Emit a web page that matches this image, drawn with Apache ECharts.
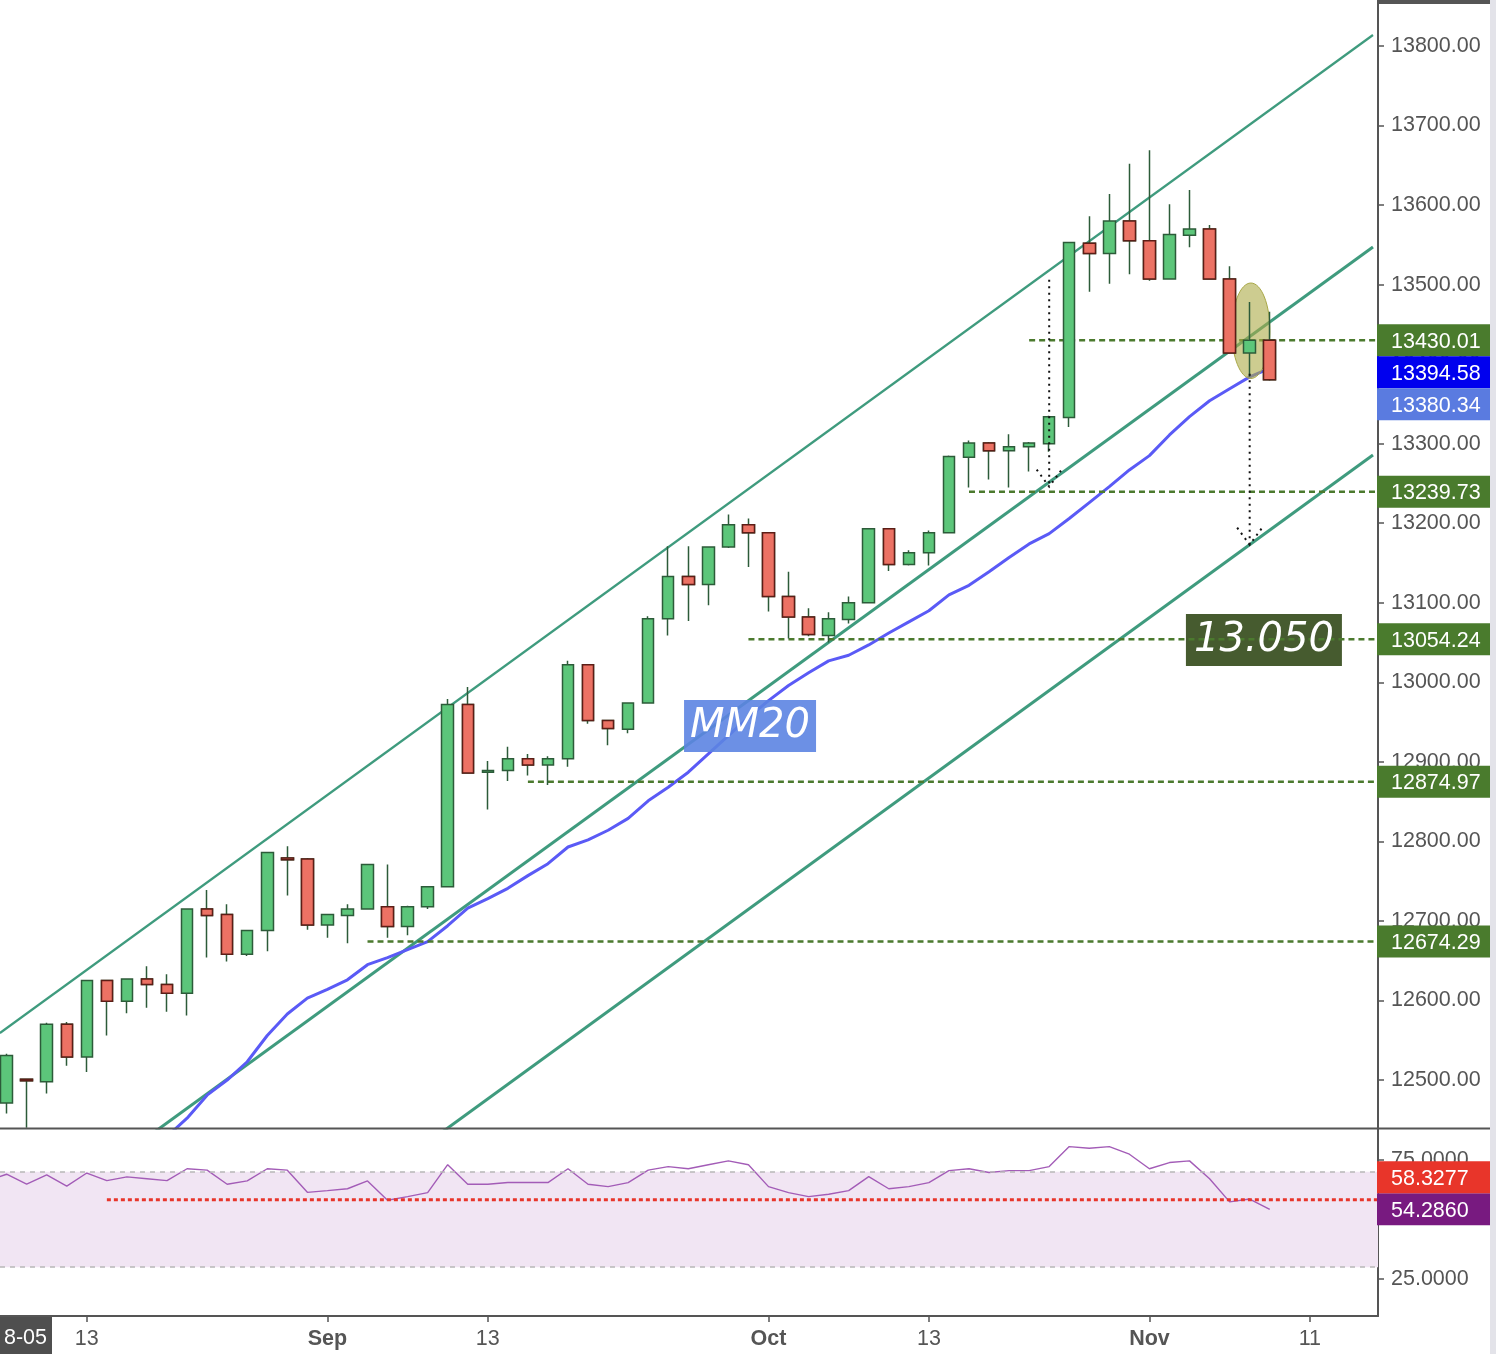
<!DOCTYPE html>
<html><head><meta charset="utf-8">
<script src="https://cdn.jsdelivr.net/npm/echarts@6/dist/echarts.min.js"></script>
<style>html,body{margin:0;padding:0;background:#fff}#c{width:1496px;height:1354px}</style>
</head><body><div id="c"></div>
<script>
// ---------------- DATA ----------------
const opens  = [12471,12501,12498,12570,12529,12625,12599,12627,12620,12609,12715,12708,12658,12688,12779,12778,12695,12707,12715,12718,12693,12718,12743,12972,12887,12889,12904,12896,12904,13022,12952,12941,12974,13080,13133,13123,13170,13198,13188,13108,13082,13059,13079,13100,13193,13148,13163,13188,13283,13301,13291,13296,13300,13333,13552,13539,13580,13555,13507,13562,13570,13507,13414,13430];
const closes = [12531,12499,12570,12529,12625,12599,12627,12620,12609,12715,12707,12658,12688,12786,12777,12695,12708,12715,12771,12693,12718,12743,12972,12886,12889,12904,12896,12904,13022,12952,12942,12974,13080,13133,13123,13170,13198,13188,13108,13082,13060,13080,13100,13193,13148,13163,13188,13284,13301,13291,13296,13301,13334,13553,13539,13580,13555,13507,13563,13570,13507,13414,13430.01,13380.34];
const lows   = [12458,12440,12483,12518,12510,12556,12584,12591,12586,12581,12654,12649,12656,12662,12732,12689,12679,12672,12714,12679,12682,12715,12742,12885,12840,12876,12883,12871,12894,12948,12921,12936,12973,13059,13077,13097,13169,13145,13089,13055,13058,13050,13074,13099,13140,13147,13147,13187,13245,13255,13245,13265,13290,13321,13491,13501,13513,13505,13506,13547,13506,13413,13384,13379];
const highs  = [12533,12502,12572,12573,12626,12626,12628,12643,12633,12716,12739,12721,12689,12787,12794,12779,12709,12721,12772,12771,12719,12744,12979,12994,12901,12919,12910,12907,13027,13023,12953,12975,13083,13171,13171,13171,13211,13206,13189,13139,13093,13088,13108,13194,13194,13166,13191,13285,13304,13302,13312,13302,13335,13554,13586,13614,13652,13669,13601,13619,13575,13523,13478,13466];

// MM20, first value belongs to candle index maStart
const maStart = 7;
const ma20 = [12406,12429,12452,12481,12500,12523,12556,12583,12603,12614,12626,12645,12654,12664,12674,12694,12716,12728,12741,12757,12772,12793,12802,12814,12829,12851,12868,12887,12910,12933,12956,12977,12996,13012,13027,13034,13047,13062,13076,13090,13110,13122,13139,13157,13174,13187,13206,13226,13246,13267,13285,13311,13334,13354,13369,13384,13394.58];

// RSI, first value belongs to index rsiStart
const rsiStart = -1;
const rsi = [66.0,69.0,64.8,68.7,64.0,69.5,66.3,67.9,67.1,66.3,71.3,70.7,64.8,66.2,71.3,70.7,61.4,62.1,62.9,66.2,58.1,59.6,61.3,73.0,64.8,64.8,65.5,65.5,65.5,71.3,64.8,63.8,65.5,70.7,72.2,71.3,73.0,74.6,73.0,63.8,61.3,59.6,60.6,62.1,68.0,62.9,63.8,65.5,70.5,71.3,69.7,70.5,70.5,72.2,80.6,79.9,80.6,77.4,71.3,73.9,74.6,67.1,57.4,58.6,54.286];

// trend channel (index, price) end points
const channelUpper  = [[-0.334, 12559.1], [68.15, 13813.8]];
const channelMiddle = [[6.0, 12409.5], [68.15, 13547.3]];
const channelLower  = [[20.0, 12403.0], [68.15, 13285.8]];

// horizontal levels and the candle index where each starts
const levelValues = [13430.01, 13239.73, 13054.24, 12874.97, 12674.29];
const levelStart  = [51, 48, 37, 26, 18];

// price axis tags and RSI tags
const priceTagValues = [13430.01, 13394.58, 13380.34, 13239.73, 13054.24, 12874.97, 12674.29];
const rsiTagValues   = [54.2860, 58.3277];
const rsiLevel = 58.3277, rsiLevelStart = 5;
const rsiBand = [30, 70];

// axis ticks
const yTickValues   = [12500,12600,12700,12800,12900,13000,13100,13200,13300,13400,13500,13600,13700,13800];
const rsiTickValues = [25, 50, 75];
const xTickIdx      = [4, 16, 24, 38, 46, 57, 65];
const xTickLabels   = ['13', 'Sep', '13', 'Oct', '13', 'Nov', '11'];
const xTickBold     = [false, true, false, true, false, true, false];
const cornerDate    = '8-05';

// annotations (data coordinates)
const noteMM20  = {text: 'MM20',   idx: 37.08, price: 12945};
const noteLevel = {text: '13.050', idx: 62.71, price: 13053.2};
const ellipseNote = {idx: 62.06, price: 13442, halfIdx: 0.95, halfPrice: 60};
const arrows = [{idx: 52, from: 13506, to: 13246}, {idx: 62, from: 13388, to: 13173}];

// ---------------- STYLE / LAYOUT ----------------
const X_MIN = -0.33, X_MAX = 68.4;
const P_MIN = 12439.7, P_MAX = 13857.8;
const R_MIN = 9.5, R_MAX = 88.4;
const AX = 1378;            // right axis x
const SEP = 1128, BOT = 1316;
const FONT = 'Liberation Sans, Arial, sans-serif';
const FS = 21.5;
const GREEN_TAG = '#4a7b2d';
const priceTagColors = [GREEN_TAG, '#0000ee', '#5a7be0', GREEN_TAG, GREEN_TAG, GREEN_TAG, GREEN_TAG];
const rsiTagColors = ['#781a80', '#e8352a'];

const chart = echarts.init(document.getElementById('c'), null, {renderer: 'canvas'});

const candleData = opens.map((o, i) => [i, o, closes[i], lows[i], highs[i]]);
const redBodies = opens.map((o, i) => closes[i] < o ? [i, o, closes[i], closes[i], o] : null).filter(d => d);

const series = [];
function lineSeries(data, color, width, z, extra) {
  return Object.assign({type: 'line', xAxisIndex: 0, yAxisIndex: 0, data, symbol: 'none', silent: true,
    lineStyle: {color, width}, z, clip: true}, extra || {});
}
series.push(lineSeries(channelUpper, '#3f9b7e', 2.2, 2));
series.push(lineSeries(channelMiddle, '#3f9b7e', 3, 2));
series.push(lineSeries(channelLower, '#3f9b7e', 3, 2));
series.push(lineSeries(ma20.map((v, i) => [i + maStart, v]), '#5a5af6', 3, 2));
levelValues.forEach((v, k) => {
  series.push(lineSeries([[levelStart[k], v], [X_MAX, v]], '#4b7a2e', 2.5, 3, {lineStyle: {color: '#4b7a2e', width: 2.5, type: [6, 4]}}));
});
series.push({
  type: 'candlestick', xAxisIndex: 0, yAxisIndex: 0, data: candleData, barWidth: 12, z: 5, silent: true,
  itemStyle: {color: '#5cc67a', color0: '#ec7264', borderColor: '#2c5b39', borderColor0: '#2c5b39', borderWidth: 1.5}
});
series.push({
  type: 'candlestick', xAxisIndex: 0, yAxisIndex: 0, data: redBodies, barWidth: 12, z: 6, silent: true,
  itemStyle: {color: '#5cc67a', color0: '#ec7264', borderColor: '#2c5b39', borderColor0: '#5c1d16', borderWidth: 1.5}
});
// RSI
series.push({
  type: 'line', xAxisIndex: 1, yAxisIndex: 1, symbol: 'none', silent: true, z: 3,
  data: rsi.map((v, i) => [i + rsiStart, v]),
  lineStyle: {color: '#a35cb7', width: 1.4},
  markArea: {silent: true, itemStyle: {color: '#f1e5f3'}, data: [[{yAxis: rsiBand[0]}, {yAxis: rsiBand[1]}]]},
  markLine: {silent: true, symbol: 'none', label: {show: false},
    lineStyle: {color: '#b8b8b8', width: 1.5, type: [5, 5]},
    data: [{yAxis: rsiBand[0]}, {yAxis: rsiBand[1]}]}
});
series.push({
  type: 'line', xAxisIndex: 1, yAxisIndex: 1, symbol: 'none', silent: true, z: 4,
  data: [[rsiLevelStart, rsiLevel], [X_MAX, rsiLevel]],
  lineStyle: {color: '#e8352a', width: 3, type: [4, 3]}
});

const axisCommon = {
  axisLine: {show: true, onZero: false, lineStyle: {color: '#555', width: 2}},
  splitLine: {show: false}
};

const option = {
  animation: false,
  backgroundColor: '#ffffff',
  grid: [
    {left: 0, top: 0, width: AX, height: SEP},
    {left: 0, top: SEP, width: AX, height: BOT - SEP}
  ],
  xAxis: [
    {type: 'value', gridIndex: 0, min: X_MIN, max: X_MAX, show: false},
    Object.assign({type: 'value', gridIndex: 1, min: X_MIN, max: X_MAX,
      axisTick: {show: true, customValues: xTickIdx, length: 6, lineStyle: {color: '#555', width: 1.5}},
      axisLabel: {show: true, customValues: xTickIdx, color: '#555', fontSize: FS, fontFamily: FONT, margin: 12,
        formatter: v => {
          const k = xTickIdx.indexOf(Math.round(v));
          if (k < 0) return '';
          return xTickBold[k] ? '{b|' + xTickLabels[k] + '}' : xTickLabels[k];
        },
        rich: {b: {fontWeight: 'bold', fontSize: FS, color: '#555', fontFamily: FONT}}}
    }, axisCommon)
  ],
  yAxis: [
    Object.assign({type: 'value', gridIndex: 0, position: 'right', min: P_MIN, max: P_MAX,
      axisTick: {show: true, customValues: yTickValues, length: 6, lineStyle: {color: '#555', width: 1.5}},
      axisLabel: {show: true, customValues: yTickValues, color: '#555', fontSize: FS, fontFamily: FONT, margin: 13,
        padding: [3, 0, 0, 0], formatter: v => Number(v).toFixed(2)}
    }, axisCommon),
    Object.assign({type: 'value', gridIndex: 1, position: 'right', min: R_MIN, max: R_MAX,
      axisTick: {show: true, customValues: rsiTickValues, length: 6, lineStyle: {color: '#555', width: 1.5}},
      axisLabel: {show: true, customValues: rsiTickValues, color: '#555', fontSize: FS, fontFamily: FONT, margin: 13,
        padding: [3, 0, 0, 0], formatter: v => Number(v).toFixed(4)}
    }, axisCommon)
  ],
  series
};
chart.setOption(option);

// ---------------- GRAPHICS (positioned through the axes) ----------------
const px = (gi, x, y) => chart.convertToPixel({gridIndex: gi}, [x, y]);
const g = [];
const TAG_H = 32, TAG_X = AX - 1, TAG_W = 1490 - (AX - 1);

// frame pieces
g.push({type: 'rect', shape: {x: 1490, y: 0, width: 6, height: 1354}, style: {fill: '#e3e3e9'}, z: 20});
g.push({type: 'rect', shape: {x: AX - 1, y: 0, width: 1490 - AX + 1, height: 4}, style: {fill: '#555'}, z: 20});
g.push({type: 'line', shape: {x1: 0, y1: SEP + 0.5, x2: 1490, y2: SEP + 0.5}, style: {stroke: '#555', lineWidth: 2}, z: 20});
g.push({type: 'rect', shape: {x: 0, y: BOT + 1, width: 52, height: 1354 - BOT - 1}, style: {fill: '#4f4f4f'}, z: 20});
g.push({type: 'text', style: {text: cornerDate, x: 47, y: 1338, fill: '#fff', font: FS + 'px ' + FONT, textAlign: 'right', textVerticalAlign: 'middle'}, z: 21});

// tags
function placeTags(values, colors, gi, digits) {
  const placed = [];
  values.forEach((v, k) => {
    let y = px(gi, 0, v)[1];
    for (let pass = 0; pass < 3; pass++) {
      placed.forEach(p => {
        if (Math.abs(y - p) < TAG_H - 0.01) y = (y > p) ? p + TAG_H : p - TAG_H;
      });
    }
    placed.push(y);
    g.push({type: 'rect', shape: {x: TAG_X, y: y - TAG_H / 2, width: TAG_W, height: TAG_H}, style: {fill: colors[k]}, z: 10});
    g.push({type: 'text', style: {text: v.toFixed(digits), x: 1391, y: y + 1.5, fill: '#ffffff', font: FS + 'px ' + FONT, textAlign: 'left', textVerticalAlign: 'middle'}, z: 11});
  });
}
placeTags(priceTagValues, priceTagColors, 0, 2);
placeTags(rsiTagValues, rsiTagColors, 1, 4);

// MM20 label
(function () {
  const p = px(0, noteMM20.idx, noteMM20.price);
  g.push({type: 'rect', shape: {x: p[0] - 66, y: p[1] - 26, width: 132, height: 52}, style: {fill: 'rgba(92,132,226,0.9)'}, z: 7});
  g.push({type: 'text', style: {text: noteMM20.text, x: p[0], y: p[1] + 1, fill: '#fff', font: 'italic 40px DejaVu Sans', textAlign: 'center', textVerticalAlign: 'middle'}, z: 8});
})();
// 13.050 label
(function () {
  const p = px(0, noteLevel.idx, noteLevel.price);
  g.push({type: 'rect', shape: {x: p[0] - 78, y: p[1] - 26, width: 156, height: 52}, style: {fill: '#465b2f'}, z: 2.5});
  g.push({type: 'text', style: {text: noteLevel.text, x: p[0], y: p[1] + 1, fill: '#fff', font: 'italic 40px DejaVu Sans', textAlign: 'center', textVerticalAlign: 'middle'}, z: 3.5});
})();
// ellipse
(function () {
  const c = px(0, ellipseNote.idx, ellipseNote.price);
  const e = px(0, ellipseNote.idx + ellipseNote.halfIdx, ellipseNote.price + ellipseNote.halfPrice);
  g.push({type: 'ellipse', shape: {cx: c[0], cy: c[1], rx: Math.abs(e[0] - c[0]), ry: Math.abs(c[1] - e[1])},
    style: {fill: 'rgba(172,170,70,0.6)', stroke: '#a9a848', lineWidth: 1}, z: 4});
})();
// dotted arrows
arrows.forEach(a => {
  const t = px(0, a.idx, a.from), b = px(0, a.idx, a.to);
  const st = {stroke: '#111', lineWidth: 2, lineDash: [2, 4.5], fill: null};
  g.push({type: 'line', shape: {x1: t[0], y1: t[1], x2: b[0], y2: b[1]}, style: st, z: 8});
  g.push({type: 'polyline', shape: {points: [[b[0] - 12.5, b[1] - 17], [b[0], b[1]], [b[0] + 12.5, b[1] - 17]]}, style: st, z: 8});
});

chart.setOption({graphic: {elements: g}});
</script>
</body></html>
